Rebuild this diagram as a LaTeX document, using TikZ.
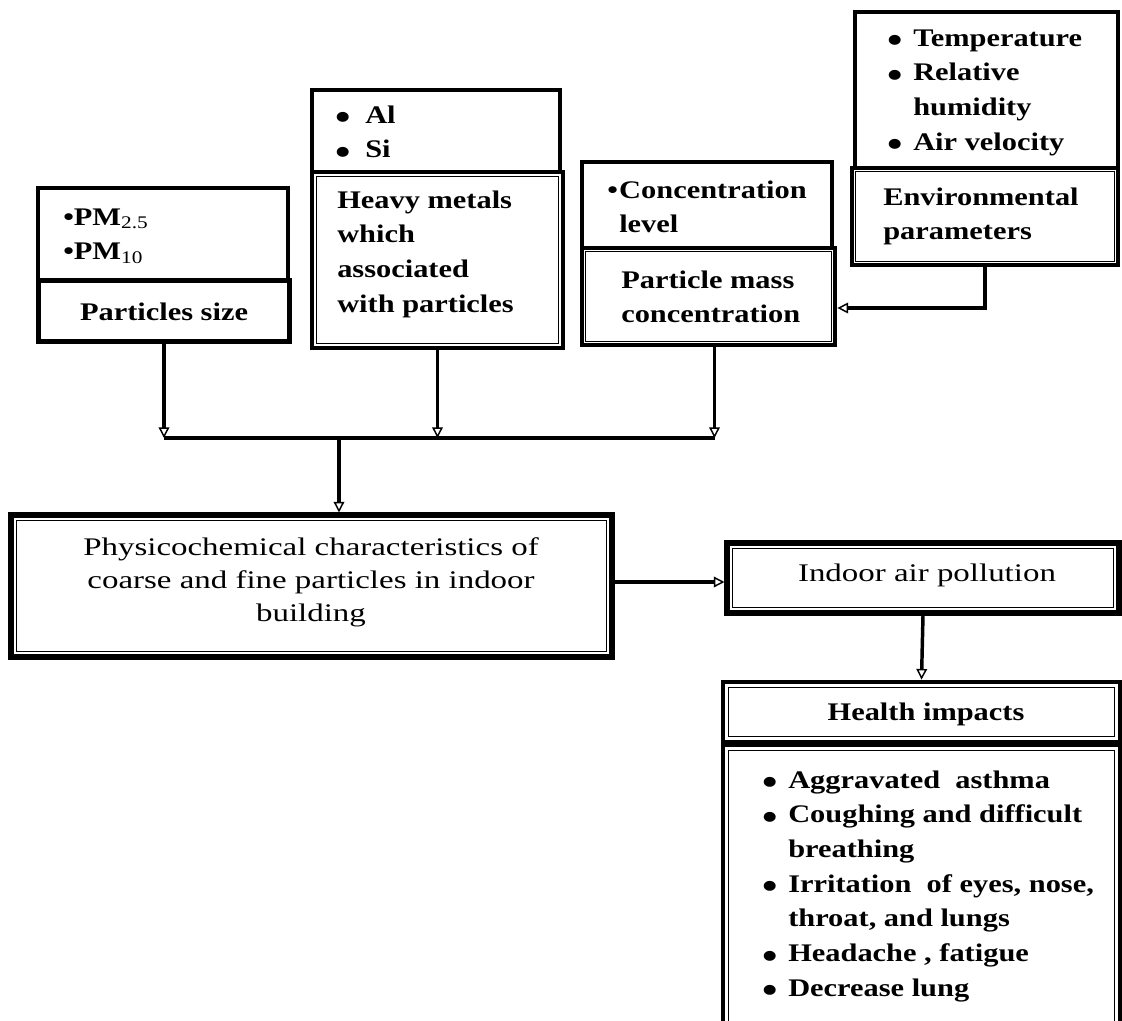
\documentclass[tikz,border=0pt]{standalone}
\usepackage{graphicx}
\usepackage{fontspec}
\setmainfont{Liberation Serif}[FakeStretch=1.2]
\newfontfamily\widefont{Liberation Serif}[FakeStretch=1.3]
\usetikzlibrary{arrows.meta,fit,calc}
\newcommand\innerframe[2][6]{\draw[line width=0.9pt] ($(#2.north west)+(#1,#1)$) rectangle ($(#2.south east)+(-#1,-#1)$);}
\newcommand\bigbul{\raisebox{-0.6ex}{\scalebox{1.45}{\textbullet}}}
\newcommand\bul[1]{\makebox[#1][l]{\bigbul}}
\tikzset{
  listbox/.style={draw, line width=2.6pt, inner sep=0pt},
  titlebox/.style={draw, line width=3.6pt, inner sep=0pt},
  mainbox/.style={draw, line width=3.8pt, inner sep=0pt},
  conn/.style={line width=2.6pt, -{Triangle[open,length=8pt,width=8pt,line width=1.1pt]}},
  plain/.style={line width=2.6pt},
  txt/.style={anchor=base west, inner sep=0pt, font=\bfseries\fontsize{19}{26}\selectfont},
  txtc/.style={anchor=base, inner sep=0pt, font=\bfseries\fontsize{19}{26}\selectfont},
  wtxt/.style={anchor=base, inner sep=0pt, font=\widefont\fontsize{19}{24.75}\selectfont},
}
\begin{document}
\begin{tikzpicture}[x=0.75pt,y=-0.75pt]
\useasboundingbox (0,0) rectangle (1122,1021);
\clip (0,0) rectangle (1122,1021);
% boxes
\node[listbox, fit={(38,188)(288,280)}] (psl) {};
\node[titlebox, fit={(38,280)(290,342)}] (pst) {};
\node[listbox, fit={(312,90)(560,172)}] (hml) {};
\node[titlebox, fit={(312,172)(563,348)}] (hmt) {};
\node[listbox, fit={(582,162)(832,248)}] (pmcl) {};
\node[titlebox, fit={(582,248)(835,345)}] (pmct) {};
\node[listbox, fit={(855,12)(1118,168)}] (envl) {};
\node[titlebox, fit={(852,168)(1118,265)}] (envt) {};
\node[mainbox, fit={(11,515)(612,657)}] (main) {};
\node[mainbox, fit={(727,543)(1119,613)}] (indoor) {};
\node[titlebox, fit={(723,682)(1120,742)}] (ht) {};
\node[titlebox, fit={(723,745)(1120,1045)}] (hl) {};
\innerframe[5]{pst}
\innerframe[7]{hmt}
\innerframe[6]{pmct}
\innerframe[6]{envt}
\innerframe[8]{main}
\innerframe[8]{indoor}
\innerframe[8]{ht}
\innerframe[8]{hl}
% texts
\node[txt] (pstxt) at (63,225) {\begin{tabular}[t]{@{}l@{}}\textbullet PM\textsubscript{\mdseries 2.5}\\ \textbullet PM\textsubscript{\mdseries 10}\end{tabular}};
\node[txtc] (psttxt) at (164,320) {Particles size};
\node[txt] (hmltxt) at (335,123) {\begin{tabular}[t]{@{}l@{}}\bul{22.5pt}Al\\ \bul{22.5pt}Si\end{tabular}};
\node[txt] (hmttxt) at (337,208) {\begin{tabular}[t]{@{}l@{}}Heavy metals\\ which\\ associated\\ with particles\end{tabular}};
\node[txt] (pmcltxt) at (607,198) {\begin{tabular}[t]{@{}l@{}}\makebox[9pt][l]{\textbullet}Concentration\\ \hspace*{9pt}level\end{tabular}};
\node[txt] (pmcttxt) at (621,288) {\begin{tabular}[t]{@{}l@{}}Particle mass\\ concentration\end{tabular}};
\node[txt] (envltxt) at (887,46) {\begin{tabular}[t]{@{}l@{}}\bul{19.5pt}Temperature\\ \bul{19.5pt}Relative\\ \hspace*{19.5pt}humidity\\ \bul{19.5pt}Air velocity\end{tabular}};
\node[txt] (envttxt) at (883,205) {\begin{tabular}[t]{@{}l@{}}Environmental\\ parameters\end{tabular}};
\node[wtxt] (maintxt) at (311,555) {\begin{tabular}[t]{@{}c@{}}Physicochemical characteristics of\\ coarse and fine particles in indoor\\ building\end{tabular}};
\node[wtxt] (indoortxt) at (927,581) {Indoor air pollution};
\node[txtc] (httxt) at (926,720) {Health impacts};
\node[txt] (hltxt) at (762,788) {\begin{tabular}[t]{@{}l@{}}\bul{19.5pt}Aggravated\ \ asthma\\ \bul{19.5pt}Coughing and difficult\\ \hspace*{19.5pt}breathing\\ \bul{19.5pt}Irritation\ \ of eyes, nose,\\ \hspace*{19.5pt}throat, and lungs\\ \bul{19.5pt}Headache , fatigue\\ \bul{19.5pt}Decrease lung\end{tabular}};
% connectors
\coordinate (m) at (0,438);
\coordinate (j) at (339,438);
\coordinate (k) at (0,308);
\coordinate (r) at (0,582);
\draw[conn] (pst.south) -- (pst.south |- m);
\draw[conn] (hmt.south) -- (hmt.south |- m);
\draw[conn] ($(pmct.south)+(6,0)$) -- ($(pmct.south |- m)+(6,0)$);
\draw[plain] (pst.south |- m) -- ($(pmct.south |- m)+(6,0)$);
\draw[conn] (j) -- (main.north -| j);
\draw[conn] (envt.south) |- (pmct.east |- k);
\draw[conn] (main.east |- r) -- (indoor.west |- r);
\draw[conn] (indoor.south) -- (ht.north);
\end{tikzpicture}
\end{document}
